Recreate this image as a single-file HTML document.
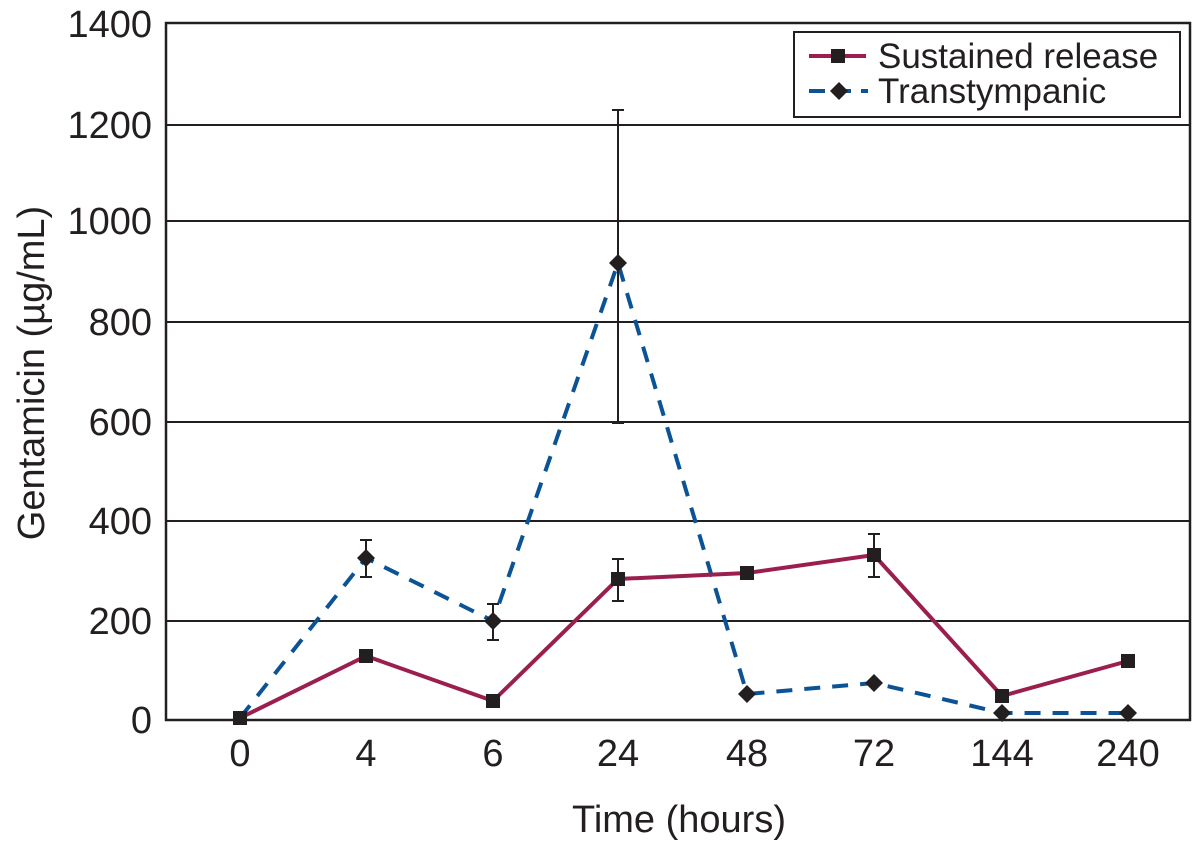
<!DOCTYPE html>
<html><head><style>html,body{margin:0;padding:0;background:#fff}svg{display:block}</style></head><body>
<svg width="1203" height="858" viewBox="0 0 1203 858" xmlns="http://www.w3.org/2000/svg" font-family="Liberation Sans, sans-serif" fill="#231f20">
<g stroke="#231f20" stroke-width="2">
<line x1="166" y1="125" x2="1190" y2="125"/>
<line x1="166" y1="221" x2="1190" y2="221"/>
<line x1="166" y1="322" x2="1190" y2="322"/>
<line x1="166" y1="422" x2="1190" y2="422"/>
<line x1="166" y1="521" x2="1190" y2="521"/>
<line x1="166" y1="621" x2="1190" y2="621"/>
<rect x="166" y="23" width="1024" height="697" fill="none" stroke-width="2.5"/>
</g>
<g font-size="38" text-anchor="end">
<text x="152" y="733">0</text><text x="152" y="634">200</text><text x="152" y="534">400</text>
<text x="152" y="435">600</text><text x="152" y="335">800</text><text x="152" y="234">1000</text>
<text x="152" y="138">1200</text><text x="152" y="37">1400</text>
</g>
<g font-size="38" text-anchor="middle">
<text x="240" y="766">0</text><text x="366" y="766">4</text><text x="493" y="766">6</text>
<text x="618" y="766">24</text><text x="747" y="766">48</text><text x="874" y="766">72</text>
<text x="1002" y="766">144</text><text x="1128" y="766">240</text>
<text x="679" y="832">Time (hours)</text>
<text transform="translate(44,373) rotate(-90)" font-size="38">Gentamicin (µg/mL)</text>
</g>
<g stroke="#231f20" stroke-width="2">
<line x1="366" y1="540" x2="366" y2="577"/><line x1="360" y1="540" x2="372" y2="540"/><line x1="360" y1="577" x2="372" y2="577"/>
<line x1="493" y1="604" x2="493" y2="640"/><line x1="487" y1="604" x2="499" y2="604"/><line x1="487" y1="640" x2="499" y2="640"/>
<line x1="618" y1="110" x2="618" y2="423"/><line x1="612" y1="110" x2="624" y2="110"/><line x1="612" y1="423" x2="624" y2="423"/>
<line x1="618" y1="559" x2="618" y2="601"/><line x1="612" y1="559" x2="624" y2="559"/><line x1="612" y1="601" x2="624" y2="601"/>
<line x1="874" y1="534" x2="874" y2="577"/><line x1="868" y1="534" x2="880" y2="534"/><line x1="868" y1="577" x2="880" y2="577"/>
</g>
<polyline points="240,718 366,558 493,621 618,263 747,694 874,683 1002,713 1128,713" fill="none" stroke="#0b5394" stroke-width="4" stroke-dasharray="16,12"/>
<polyline points="240,718 366,656 493,701 618,579 747,573 874,555 1002,696 1128,661" fill="none" stroke="#9b1f4e" stroke-width="4"/>
<g>
<rect x="233" y="711" width="14" height="14"/><rect x="359" y="649" width="14" height="14"/><rect x="486" y="694" width="14" height="14"/>
<rect x="611" y="572" width="14" height="14"/><rect x="740" y="566" width="14" height="14"/><rect x="867" y="548" width="14" height="14"/>
<rect x="995" y="689" width="14" height="14"/><rect x="1121" y="654" width="14" height="14"/>
</g>
<g>
<path d="M366,549 l9,9 -9,9 -9,-9z"/><path d="M493,612 l9,9 -9,9 -9,-9z"/><path d="M618,254 l9,9 -9,9 -9,-9z"/>
<path d="M747,685 l9,9 -9,9 -9,-9z"/><path d="M874,674 l9,9 -9,9 -9,-9z"/><path d="M1002,704 l9,9 -9,9 -9,-9z"/><path d="M1128,704 l9,9 -9,9 -9,-9z"/>
</g>
<rect x="794" y="32" width="386" height="85" fill="#fff" stroke="#231f20" stroke-width="2"/>
<line x1="809" y1="56" x2="866" y2="56" stroke="#9b1f4e" stroke-width="4"/>
<rect x="831" y="49" width="14" height="14"/>
<line x1="809" y1="91" x2="868" y2="91" stroke="#0b5394" stroke-width="4" stroke-dasharray="16,10"/>
<path d="M839,82 l9,9 -9,9 -9,-9z"/>
<text x="878" y="68" font-size="35">Sustained release</text>
<text x="878" y="103" font-size="35">Transtympanic</text>
</svg>
</body></html>
